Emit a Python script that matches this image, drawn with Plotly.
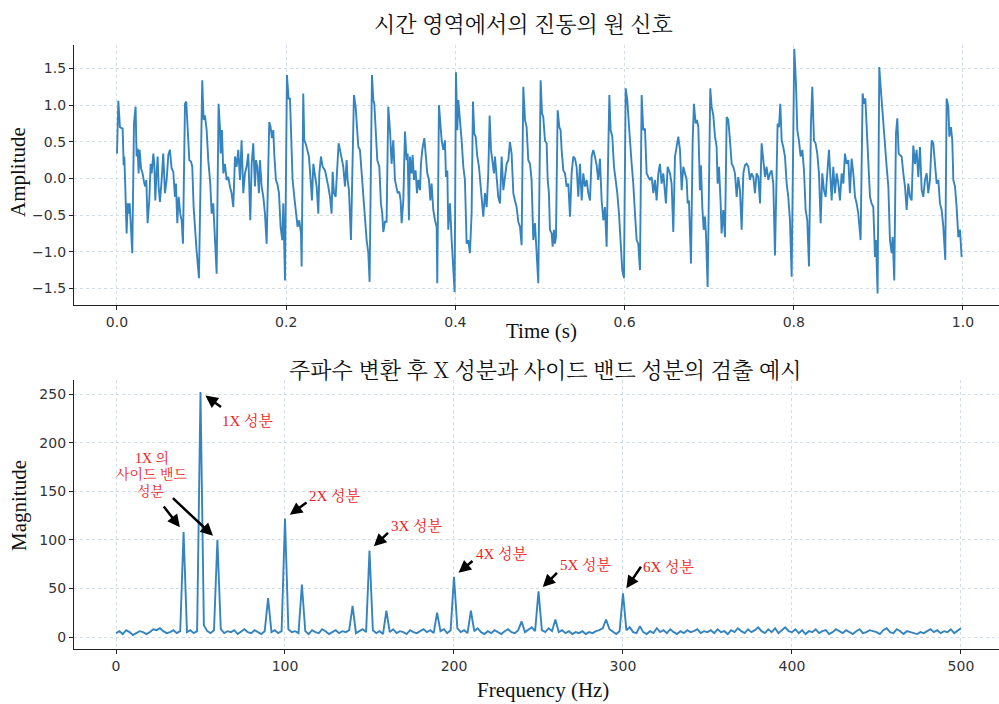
import plotly.graph_objects as go

W, H = 999, 704

# ---- Time-domain vibration signal: (time in ms, amplitude) ----
signal_samples = [
    (0.0, 0.34), (1.6, 1.06), (3.5, 0.70), (6.7, 0.68), (7.9, 0.18), (8.7, 0.30), (9.8, -0.11),
    (10.6, -0.34), (11.4, -0.75), (12.6, -0.34), (13.8, -0.48), (15.0, -0.34), (16.5, -0.66),
    (18.1, -1.02), (20.1, 0.75), (22.0, 0.98), (23.2, 0.30), (24.4, 0.41), (25.6, 0.07),
    (26.8, 0.39), (28.4, 0.14), (30.3, 0.07), (32.3, -0.07), (33.5, -0.11), (34.7, -0.02),
    (36.2, -0.61), (38.2, -0.30), (39.8, 0.20), (41.0, 0.07), (43.0, 0.34), (44.1, 0.20),
    (45.3, -0.30), (46.5, 0.02), (48.1, 0.30), (49.2, -0.11), (50.8, -0.32), (52.8, -0.02),
    (54.7, 0.34), (56.7, -0.20), (58.7, -0.02), (60.7, 0.32), (62.6, 0.39), (64.6, 0.14),
    (66.6, 0.09), (68.5, -0.25), (69.7, -0.07), (71.3, -0.61), (72.9, -0.25), (74.8, -0.48),
    (76.4, -0.57), (78.0, -0.89), (80.4, 1.02), (81.9, 1.05), (83.5, 0.66), (85.5, 0.25),
    (87.5, 0.23), (89.0, 0.16), (90.6, -0.39), (92.2, -0.70), (94.1, -0.98), (96.9, -1.36),
    (100.8, 1.34), (102.4, 0.80), (104.0, 0.86), (106.0, 0.66), (107.9, 0.25), (110.3, -0.07),
    (111.9, -0.48), (113.8, -0.34), (115.8, -0.84), (117.8, -1.30), (120.1, 1.02), (121.7, 0.70),
    (122.5, 0.34), (124.1, 0.66), (125.7, 0.07), (127.6, 0.20), (129.6, -0.02), (131.6, 0.02),
    (133.5, -0.11), (135.5, -0.20), (137.5, -0.39), (139.5, 0.30), (141.4, 0.16), (143.4, 0.39),
    (145.4, -0.02), (147.3, 0.52), (149.3, -0.20), (151.3, 0.07), (153.2, 0.16), (155.2, 0.34),
    (157.6, -0.57), (159.2, 0.20), (161.1, 0.48), (163.1, -0.11), (164.3, 0.25), (165.9, 0.16),
    (167.8, -0.20), (169.0, 0.25), (171.0, -0.11), (173.0, -0.25), (174.9, -0.48), (176.9, -0.89),
    (180.0, 0.77), (181.6, 0.70), (183.2, 0.55), (184.8, 0.66), (185.9, 0.34), (187.9, -0.02),
    (189.5, -0.07), (191.5, -0.20), (193.4, -0.66), (195.4, -0.84), (196.6, -0.34), (198.6, -1.39),
    (200.9, 1.41), (202.9, 1.09), (204.5, 1.09), (205.7, 0.52), (207.6, -0.02), (209.6, -0.25),
    (211.6, -0.48), (213.5, -0.66), (215.5, -0.57), (217.5, -0.75), (218.3, -1.20), (220.2, 1.16),
    (221.4, 0.52), (223.0, 0.48), (225.0, 0.39), (226.9, 0.30), (228.9, -0.02), (230.5, -0.30),
    (232.1, 0.20), (234.0, 0.02), (236.0, -0.11), (238.0, -0.48), (239.2, 0.07), (241.1, 0.30),
    (243.1, 0.16), (245.9, 0.11), (247.8, 0.02), (249.8, -0.11), (251.8, -0.25), (253.7, -0.48),
    (254.9, 0.09), (256.5, -0.20), (258.5, -0.25), (260.4, 0.25), (262.0, 0.48), (263.6, 0.39),
    (265.6, 0.25), (267.5, 0.16), (269.5, -0.11), (271.5, 0.25), (272.6, -0.02), (274.2, -0.16),
    (276.6, -0.84), (280.1, 1.14), (282.1, 0.98), (283.3, 0.70), (285.3, 0.43), (287.2, 0.39),
    (289.2, 0.07), (291.2, -0.25), (293.1, -0.57), (295.1, -0.84), (297.1, -1.02), (298.6, -1.41),
    (301.4, 1.41), (303.0, 1.07), (304.2, 1.02), (305.7, 0.66), (307.7, 0.25), (310.1, 0.16),
    (312.0, -0.34), (313.6, -0.48), (314.8, -0.73), (316.8, -0.59), (318.7, -0.59), (320.7, 0.98),
    (322.7, 0.66), (324.6, 0.20), (326.6, 0.52), (328.6, -0.02), (331.8, -0.20), (333.7, -0.18),
    (335.3, -0.30), (336.5, -0.61), (338.5, -0.30), (340.4, 0.64), (342.4, 0.25), (343.6, 0.34),
    (345.1, -0.57), (346.3, 0.30), (348.3, 0.07), (349.5, 0.32), (351.1, -0.02), (353.0, 0.11),
    (354.6, -0.20), (356.2, -0.02), (358.2, -0.16), (359.3, 0.20), (360.9, 0.39), (363.3, 0.55),
    (364.9, 0.30), (366.8, 0.07), (368.8, -0.02), (370.4, -0.30), (371.9, -0.07), (373.9, -0.43),
    (375.9, -0.57), (377.9, -0.66), (378.6, -1.43), (380.6, 1.00), (382.6, 0.70), (383.8, 0.52),
    (385.7, 0.39), (387.7, 0.52), (388.9, 0.02), (390.5, 0.11), (391.6, -0.70), (393.6, -0.34),
    (395.6, -0.84), (397.5, -1.20), (399.1, -1.55), (400.7, 1.45), (402.3, 0.66), (403.5, 1.07),
    (405.4, 0.84), (407.4, 0.52), (409.4, 0.16), (411.3, -0.02), (413.3, -0.89), (415.3, -0.84),
    (417.2, -1.02), (419.2, -0.48), (420.8, 1.05), (422.4, 0.61), (424.0, 0.57), (425.9, 0.30),
    (427.9, 0.16), (429.9, -0.07), (431.8, -0.30), (433.0, -0.52), (435.0, -0.20), (437.0, -0.39),
    (438.9, 0.07), (440.5, 0.86), (442.1, 0.39), (443.6, 0.25), (445.6, 0.07), (446.8, 0.30),
    (448.8, 0.07), (450.7, -0.25), (452.7, -0.34), (454.7, 0.30), (456.7, -0.16), (458.6, 0.02),
    (460.6, 0.20), (462.6, 0.25), (464.5, 0.50), (466.5, 0.34), (468.5, -0.20), (470.4, -0.30),
    (472.4, -0.39), (474.4, -0.59), (476.4, -0.66), (478.3, -0.91), (480.3, 1.25), (482.3, 0.80),
    (484.2, 0.70), (486.2, 0.25), (488.2, 0.20), (490.1, -0.02), (492.1, -0.84), (494.1, -0.61),
    (496.0, -1.02), (498.0, -1.43), (500.8, 1.34), (502.4, 0.89), (503.9, 0.84), (505.9, 0.52),
    (507.9, 0.48), (509.1, -0.02), (510.6, -0.20), (511.8, -0.70), (513.8, -0.75), (515.0, -0.93),
    (516.5, -0.70), (517.7, -0.89), (518.9, -0.80), (520.9, 0.93), (522.9, 0.70), (524.4, 0.66),
    (525.6, 0.39), (527.6, 0.11), (529.6, 0.07), (531.5, -0.11), (533.5, -0.07), (535.5, -0.52),
    (537.4, 0.07), (539.4, 0.30), (541.4, 0.27), (543.3, 0.16), (545.3, -0.25), (547.3, 0.20),
    (549.3, -0.30), (551.2, 0.07), (553.2, -0.11), (555.2, -0.02), (557.1, -0.20), (559.1, -0.30),
    (561.1, 0.30), (563.0, 0.39), (565.0, 0.30), (567.0, 0.18), (568.9, -0.02), (570.9, 0.27),
    (572.9, -0.30), (574.9, -0.57), (576.8, -0.39), (578.8, -0.93), (580.4, 0.16), (582.0, 1.14),
    (583.5, 0.66), (585.5, 0.57), (587.5, 0.16), (589.4, -0.02), (591.4, -0.20), (593.4, -0.48),
    (595.3, -0.93), (597.3, -1.25), (599.3, -1.36), (601.3, 1.23), (603.2, 1.07), (604.8, 0.70),
    (606.4, 0.52), (608.4, 0.20), (610.3, -0.07), (612.3, -0.48), (614.3, -0.84), (616.2, -0.89),
    (618.2, -1.25), (620.2, 1.14), (622.1, 0.66), (624.1, 0.68), (626.1, 0.07), (628.1, 0.02),
    (630.0, -0.02), (632.0, 0.02), (634.0, -0.20), (635.9, -0.02), (637.9, -0.30), (639.9, 0.07),
    (641.8, 0.20), (643.8, -0.07), (645.8, 0.07), (648.9, -0.34), (650.9, 0.16), (653.7, 0.07),
    (655.6, -0.07), (657.6, -0.73), (659.6, 0.30), (661.5, 0.43), (663.5, 0.57), (665.5, 0.39),
    (667.5, -0.16), (669.4, 0.16), (671.4, 0.07), (673.4, -0.02), (674.6, -0.34), (676.1, -0.30),
    (678.5, -1.16), (680.5, 0.52), (682.0, 1.02), (684.0, 0.75), (685.6, 0.80), (687.2, 0.70),
    (689.1, -0.16), (690.3, 0.18), (691.9, -0.39), (693.5, -0.70), (695.0, -0.52), (696.2, -0.75),
    (698.2, -1.48), (701.3, 1.23), (702.9, 0.98), (704.9, 0.86), (706.9, 0.57), (708.8, 0.43),
    (710.0, -0.07), (711.6, 0.16), (713.6, -0.34), (714.7, -0.75), (716.7, -0.43), (718.7, -0.80),
    (720.7, 0.84), (722.6, 0.80), (724.6, 0.52), (726.6, 0.20), (728.5, 0.16), (730.5, 0.07),
    (732.5, -0.25), (734.4, 0.02), (736.4, -0.16), (738.4, -0.70), (740.4, 0.07), (742.3, 0.18),
    (744.3, 0.20), (746.3, 0.16), (748.2, -0.02), (750.2, 0.07), (752.2, 0.02), (754.1, -0.20),
    (756.1, 0.07), (758.1, 0.02), (760.1, -0.34), (762.0, 0.48), (764.0, 0.25), (766.0, 0.02),
    (767.9, 0.16), (769.9, -0.02), (771.9, 0.07), (773.8, 0.11), (775.8, -0.07), (777.8, -1.05),
    (780.9, 0.75), (782.5, 0.70), (784.1, 1.02), (785.7, 0.52), (787.6, 0.43), (789.6, 0.30),
    (791.6, -0.07), (793.5, -0.25), (795.5, -0.57), (797.5, -1.34), (800.6, 1.77), (802.6, 1.30),
    (804.2, 0.66), (806.1, 0.52), (808.1, 0.30), (810.1, 0.39), (812.1, 0.11), (814.0, -0.43),
    (816.0, -0.57), (818.0, -1.20), (820.3, 0.75), (821.9, 1.25), (823.9, 0.52), (825.8, 0.48),
    (827.8, 0.34), (829.8, 0.07), (831.8, -0.61), (833.7, 0.07), (835.7, -0.16), (837.7, -0.25),
    (839.6, 0.07), (841.6, 0.39), (844.8, -0.30), (846.7, 0.16), (848.7, -0.20), (850.7, 0.07),
    (852.7, -0.07), (854.6, -0.30), (856.6, 0.07), (858.6, -0.07), (860.5, 0.34), (862.5, 0.20),
    (864.5, 0.25), (866.4, -0.20), (868.4, 0.27), (870.4, 0.07), (872.4, -0.25), (874.3, -0.34),
    (876.3, -0.48), (879.0, -0.84), (881.4, 1.16), (883.0, 1.02), (884.6, 1.09), (886.1, 0.70),
    (888.1, 0.30), (890.1, -0.25), (892.0, -0.34), (894.0, -0.39), (896.0, -1.07), (897.2, -0.84),
    (899.1, -1.57), (901.1, 1.52), (902.7, 1.25), (904.3, 0.98), (905.8, 0.75), (907.8, 0.39),
    (909.8, 0.16), (911.8, -0.11), (913.7, -0.84), (915.7, -1.02), (916.9, -0.80), (918.8, -1.39),
    (920.8, 0.61), (922.4, 0.82), (924.0, 0.34), (925.5, 0.32), (927.5, 0.30), (929.5, 0.07),
    (931.5, -0.11), (933.4, -0.43), (935.4, -0.07), (937.4, -0.25), (939.3, -0.30), (941.3, 0.45),
    (943.3, 0.20), (945.2, 0.39), (947.2, 0.02), (949.2, 0.43), (951.2, -0.16), (953.1, -0.25),
    (955.1, -0.02), (957.1, 0.07), (959.0, -0.20), (961.0, -0.02), (963.0, 0.52), (964.9, 0.48),
    (966.9, 0.16), (968.9, -0.07), (970.9, -0.02), (972.8, -0.34), (974.8, -0.43), (976.8, -0.66),
    (979.1, -1.11), (980.7, 1.09), (982.7, 0.98), (983.9, 0.57), (985.8, 0.70), (987.4, 0.52),
    (988.6, -0.02), (990.6, -0.11), (992.5, -0.39), (994.5, -0.80), (996.5, -0.70), (998.4, -1.07),
]
time_ms = [p[0] for p in signal_samples]
amplitude = [p[1] for p in signal_samples]

# ---- Spectrum: background floor every 2 Hz (0..500 Hz) plus discrete peaks ----
freq_step_hz = 2
noise_floor = [
    4, 6, 3, 7, 5, 2, 4, 6, 5, 3, 5, 8, 7, 9, 6, 4, 5, 7, 4, 6, 5, 5, 7, 4, 6,
    5, 12, 6, 4, 7, 5, 8, 4, 6, 5, 7, 3, 6, 8, 5, 4, 7, 5, 3, 6, 5, 5, 7, 4, 6,
    5, 8, 5, 6, 4, 5, 6, 3, 7, 5, 4, 8, 6, 3, 5, 7, 4, 6, 5, 7, 5, 4, 6, 8, 5,
    5, 7, 4, 6, 3, 5, 5, 8, 4, 6, 5, 3, 7, 5, 4, 6, 8, 5, 7, 4, 5, 6, 8, 4, 7,
    5, 9, 5, 7, 4, 5, 6, 9, 5, 3, 6, 4, 7, 5, 3, 6, 8, 5, 4, 7, 5, 5, 8, 10, 6,
    5, 7, 5, 9, 6, 5, 5, 7, 4, 6, 3, 5, 4, 6, 3, 5, 4, 6, 7, 9, 5, 8, 5, 3, 6,
    5, 7, 10, 5, 4, 5, 5, 3, 6, 4, 9, 5, 7, 4, 8, 5, 3, 6, 4, 7, 5, 6, 8, 4, 6,
    5, 7, 4, 8, 5, 6, 3, 7, 5, 9, 6, 4, 8, 5, 7, 10, 6, 4, 8, 5, 9, 4, 7, 10, 6,
    5, 8, 4, 7, 3, 6, 5, 8, 4, 6, 7, 3, 5, 8, 6, 4, 7, 5, 3, 6, 8, 4, 5, 7, 6,
    5, 3, 7, 9, 5, 4, 8, 6, 3, 6, 5, 4, 3, 5, 4, 6, 8, 5, 7, 4, 6, 5, 8, 4, 7,
    9,
]
peak_freqs = [40, 50, 60, 90, 100, 110, 140, 150, 160, 190, 200, 210, 240, 250, 260, 290, 300, 310]
peak_mags = [108, 252, 100, 40, 122, 54, 32, 89, 27, 25, 62, 27, 16, 47, 18, 18, 45, 11]

# ---- Annotation text ----
harmonic_freqs = [50, 100, 150, 200, 250, 300]
harmonic_labels = ["1X 성분", "2X 성분", "3X 성분", "4X 성분", "5X 성분", "6X 성분"]
sideband_freqs = [40, 60]
sideband_lines = ["1X 의", "사이드 밴드", "성분"]

freqs = [i * freq_step_hz for i in range(len(noise_floor))]
mags = list(noise_floor)
for f, m in zip(peak_freqs, peak_mags):
    mags[f // freq_step_hz] = m
peak_lookup = dict(zip(peak_freqs, peak_mags))

LINE = "#3584bf"
RED = "#ee1c25"
GRID = "#d3dde8"
SERIF = "Liberation Serif, Noto Serif CJK KR, Noto Sans CJK KR, serif"
KR_TITLE = "Noto Serif CJK KR, Liberation Serif, Noto Sans CJK KR, serif"
TICKFONT = dict(family="DejaVu Sans", size=14, color="#333333")

fig = go.Figure()
fig.add_trace(go.Scatter(x=[t / 1000 for t in time_ms], y=amplitude, mode="lines",
                         line=dict(color=LINE, width=1.9), xaxis="x", yaxis="y",
                         hoverinfo="skip"))
fig.add_trace(go.Scatter(x=freqs, y=mags, mode="lines",
                         line=dict(color=LINE, width=1.9), xaxis="x2", yaxis="y2",
                         hoverinfo="skip"))

axis_common = dict(showline=True, linecolor="#222222", linewidth=1.2, mirror=False,
                   ticks="outside", ticklen=4, tickwidth=1, tickcolor="#222222",
                   showgrid=True, gridcolor=GRID, griddash="3px,3px", gridwidth=1,
                   zeroline=False, tickfont=TICKFONT, automargin=False)

x_dom = [74 / W, 1.0]
fig.update_layout(
    width=W, height=H, margin=dict(l=0, r=0, t=0, b=0),
    paper_bgcolor="white", plot_bgcolor="white", showlegend=False,
    xaxis=dict(domain=x_dom, range=[-0.0508, 1.0426], tickvals=[0, 0.2, 0.4, 0.6, 0.8, 1.0],
               tickformat=".1f", anchor="y", **axis_common),
    yaxis=dict(domain=[1 - 305 / H, 1 - 45 / H], range=[-1.726, 1.821],
               tickvals=[-1.5, -1.0, -0.5, 0, 0.5, 1.0, 1.5], tickformat=".1f",
               anchor="x", **axis_common),
    xaxis2=dict(domain=x_dom, range=[-24.85, 522.5], tickvals=[0, 100, 200, 300, 400, 500],
                anchor="y2", **axis_common),
    yaxis2=dict(domain=[1 - 649 / H, 1 - 380 / H], range=[-12.35, 264.4],
                tickvals=[0, 50, 100, 150, 200, 250], anchor="x2", **axis_common),
)

annotations = []

def paper_text(text, px, py, size, angle=0, family=SERIF):
    annotations.append(dict(text=text, x=px / W, y=1 - py / H, xref="paper", yref="paper",
                            showarrow=False, textangle=angle, xanchor="center", yanchor="middle",
                            font=dict(family=family, size=size, color="#111111")))

paper_text("시간 영역에서의 진동의 원 신호", 523, 22, 22, family=KR_TITLE)
paper_text("주파수 변환 후 X 성분과 사이드 밴드 성분의 검출 예시", 545, 368, 22, family=KR_TITLE)
paper_text("Time (s)", 541, 331, 21)
paper_text("Frequency (Hz)", 543, 690, 21)
paper_text("Amplitude", 18, 172, 21, angle=-90)
paper_text("Magnitude", 19, 506, 21, angle=-90)

# arrow tail offsets (px) and label offsets (px) relative to each peak
harmonic_arrow_offsets = [(22, 16), (23, -17), (20, -19), (20, -17), (20, -20), (19, -28)]
harmonic_label_shifts = [(48, -28), (50, 23), (48, 25), (48, 23), (48, 27), (46, 27)]
sideband_arrow_offsets = [(-21, -27), (-46, -43)]
sideband_line_shifts = [(-32, 74), (-32, 58), (-33, 41)]

arrow_style = dict(showarrow=True, arrowhead=2, arrowsize=1, arrowwidth=2.5,
                   arrowcolor="black", standoff=6, text="", xref="x2", yref="y2")
label_font = dict(family=SERIF, size=15, color=RED)

for f, lab, (ax, ay), (dx, dy) in zip(harmonic_freqs, harmonic_labels,
                                      harmonic_arrow_offsets, harmonic_label_shifts):
    annotations.append(dict(x=f, y=peak_lookup[f], ax=ax, ay=ay, **arrow_style))
    annotations.append(dict(x=f, y=peak_lookup[f], xref="x2", yref="y2", text=lab,
                            showarrow=False, xshift=dx, yshift=dy, font=label_font))

for f, (ax, ay) in zip(sideband_freqs, sideband_arrow_offsets):
    annotations.append(dict(x=f, y=peak_lookup[f], ax=ax, ay=ay, **arrow_style))

anchor_f = sideband_freqs[0]
for line_text, (dx, dy) in zip(sideband_lines, sideband_line_shifts):
    annotations.append(dict(x=anchor_f, y=peak_lookup[anchor_f], xref="x2", yref="y2",
                            text=line_text, showarrow=False, xshift=dx, yshift=dy,
                            font=dict(family=SERIF, size=14, color=RED)))

fig.update_layout(annotations=annotations)
fig.write_html("out.html")
